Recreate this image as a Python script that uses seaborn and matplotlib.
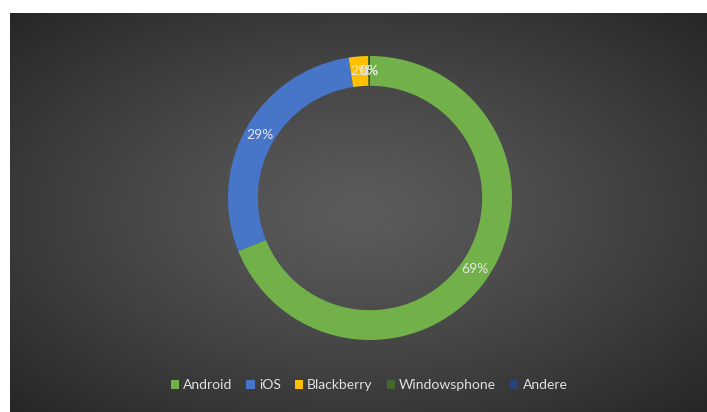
import numpy as np
import matplotlib
matplotlib.use("Agg")
import matplotlib.pyplot as plt
import seaborn as sns

# -- Data -------------------------------------------------------
platforms = ["Android", "iOS", "Blackberry", "Windowsphone", "Andere"]
shares = [68.9, 28.7, 2.2, 0.1, 0.1]
colors = ["#72B049", "#4775C8", "#FFC000", "#43682B", "#264478"]

sns.set_style("dark")
plt.rcParams["font.family"] = ["Lato", "DejaVu Sans"]

W, H = 707, 412
fig = plt.figure(figsize=(W / 100, H / 100), dpi=100, facecolor="white")

# -- Background with radial gradient ---------------------------
bg = fig.add_axes([10 / W, 0, (W - 10) / W, (H - 13) / H])
yy, xx = np.mgrid[-1:1:300j, -1:1:500j]
rr = np.sqrt(xx ** 2 + yy ** 2) / np.sqrt(2)
shade = 0.36 - 0.21 * rr ** 1.2
bg.imshow(np.dstack([shade, shade, shade]), aspect="auto",
          extent=[0, 1, 0, 1], interpolation="bilinear")
bg.set_axis_off()

# -- Donut ------------------------------------------------------
cx, cy, r = 370, 412 - 198, 142
ax = fig.add_axes([(cx - r) / W, (cy - r) / H, 2 * r / W, 2 * r / H])
ax.set_facecolor("none")
wedges, texts, autotexts = ax.pie(
    shares, colors=colors, startangle=90, counterclock=False,
    radius=1.0, autopct=lambda p: f"{p:.0f}%", pctdistance=0.895,
    wedgeprops=dict(width=0.21, edgecolor="none"),
    textprops=dict(color="#e6e6e6", fontsize=10))
ax.set_xlim(-1, 1)
ax.set_ylim(-1, 1)
ax.set_axis_off()

# -- Legend -----------------------------------------------------
leg = fig.legend(wedges, platforms, loc="center", ncol=5,
                 bbox_to_anchor=(0.522, 1 - 385 / H), frameon=False,
                 fontsize=10, handlelength=0.6, handleheight=0.6,
                 handletextpad=0.3, columnspacing=1.0)
for t in leg.get_texts():
    t.set_color("#e0e0e0")

fig.savefig("out.png", dpi=100, facecolor="white")
